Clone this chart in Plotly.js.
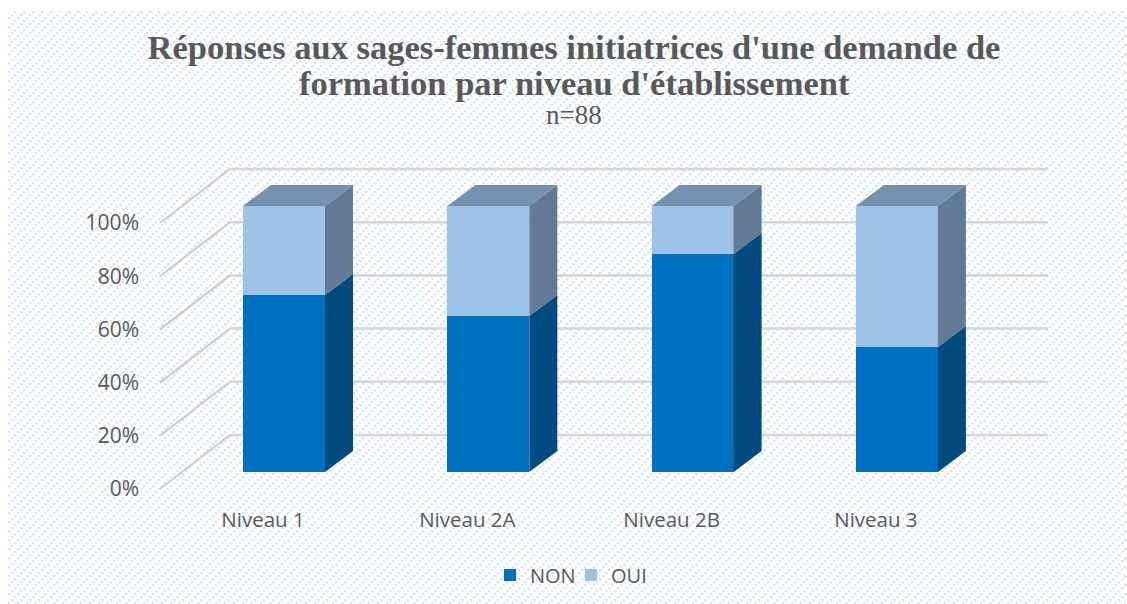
<!DOCTYPE html>
<html><head><meta charset="utf-8">
<script src="https://cdn.plot.ly/plotly-3.0.1.min.js"></script>
<style>
html,body{margin:0;padding:0;background:#fff;overflow:hidden}
#hatch{position:absolute;left:8px;top:11px;width:1119px;height:593px;
background-image:url("data:image/svg+xml,%3Csvg xmlns='http://www.w3.org/2000/svg' width='9' height='9'%3E%3Cg fill='%23d9e3f7'%3E%3Crect x='0' y='6' width='2.4' height='2.4'/%3E%3Crect x='3' y='3' width='2.4' height='2.4'/%3E%3Crect x='6' y='0' width='2.4' height='2.4'/%3E%3C/g%3E%3C/svg%3E")}
#chart{position:absolute;left:0;top:0;width:1127px;height:604px}
</style></head><body>
<div id="hatch"></div><div id="chart"></div>
<script>
const categories=['Niveau 1','Niveau 2A','Niveau 2B','Niveau 3'];
const non=[66.5,58.6,82,47];
const oui=[33.5,41.4,18,53];
const yTicks=[0,20,40,60,80,100];
const yTickLabels=['0%','20%','40%','60%','80%','100%'];
const titleLine1="Réponses aux sages-femmes initiatrices d'une demande de";
const titleLine2="formation par niveau d'établissement";
const W=1127,H=604,L=150,R=1060,T=150,B=500;
const pxX=204.3,pxY=2.66;
const xZero=284;
const xr=[(L-xZero)/pxX,(R-xZero)/pxX];
const yBars=[-(B-472)/pxY,(472-T)/pxY];
const yGrid=[-(B-489)/pxY,(489-T)/pxY];
const barW=82/pxX, dBarX=28/pxX, dBarY=21/pxY;
const wallX=70/pxX, wallY=54/pxY;
const frontX=(160-xZero)/pxX, endX=(1048-xZero)/pxX;
const xs=categories.map((c,i)=>i);
const traces=[];
yTicks.forEach(v=>{
  traces.push({type:'scatter',mode:'lines',x:[frontX,frontX+wallX],y:[v,v+wallY],xaxis:'x',yaxis:'y',
    line:{color:'#cbcbcb',width:2},hoverinfo:'skip',showlegend:false});
  traces.push({type:'scatter',mode:'lines',x:[frontX+wallX,endX],y:[v+wallY,v+wallY],xaxis:'x',yaxis:'y',
    line:{color:'#d6d6d6',width:2.5},hoverinfo:'skip',showlegend:false});
});
traces.push({type:'bar',name:'NON',x:xs,y:non,width:barW,xaxis:'x',yaxis:'y2',marker:{color:'#0070c0',line:{width:0}},hoverinfo:'skip'});
traces.push({type:'bar',name:'OUI',x:xs,y:oui,width:barW,xaxis:'x',yaxis:'y2',marker:{color:'#9dc3e6',line:{width:0}},hoverinfo:'skip'});
function face(px,py,color){
  traces.push({type:'scatter',mode:'lines',x:px,y:py,xaxis:'x',yaxis:'y2',fill:'toself',fillcolor:color,
    line:{width:0,color:color},hoverinfo:'skip',showlegend:false});
}
xs.forEach((c,i)=>{
  const r=c+barW/2,l=c-barW/2,n=non[i],t=non[i]+oui[i];
  face([r,r+dBarX,r+dBarX,r,r],[0,dBarY,n+dBarY,n,0],'#004a80');
  face([r,r+dBarX,r+dBarX,r,r],[n,n+dBarY,t+dBarY,t,n],'#627a96');
  face([l,l+dBarX,r+dBarX,r,l],[t,t+dBarY,t+dBarY,t,t],'#7691af');
});
const serif='"Liberation Serif",serif';
const yPaper=p=>(B-p)/(B-T), xPaper=p=>(p-L)/(R-L);
const layout={
  width:W,height:H,autosize:false,
  margin:{l:L,r:W-R,t:T,b:H-B,pad:0,autoexpand:false},
  paper_bgcolor:'rgba(0,0,0,0)',plot_bgcolor:'rgba(0,0,0,0)',
  barmode:'stack',
  font:{family:'"Open Sans",sans-serif',color:'#595959',size:17},
  title:{text:'<b>'+titleLine1+'</b>',
    font:{family:serif,size:34.5,color:'#595959'},
    x:574/W,xanchor:'center',y:1-47/H,yanchor:'middle'},
  annotations:[
   {text:'<b>'+titleLine2+'</b>',xref:'paper',yref:'paper',x:xPaper(574),y:yPaper(83),xanchor:'center',yanchor:'middle',
    showarrow:false,font:{family:serif,size:34.5,color:'#595959'}},
   {text:'n=88',xref:'paper',yref:'paper',x:xPaper(574),y:yPaper(115),xanchor:'center',yanchor:'middle',
    showarrow:false,font:{family:serif,size:27,color:'#595959'}}],
  xaxis:{range:xr,tickmode:'array',tickvals:xs.map(c=>c-21/pxX),ticktext:categories,showgrid:false,zeroline:false,showline:false,
    ticks:'',ticklabelstandoff:5,tickfont:{size:20.5,color:'#595959'}},
  yaxis:{range:yGrid,tickmode:'array',tickvals:yTicks,ticktext:yTickLabels,showgrid:false,zeroline:false,showline:false,
    ticks:'',ticklabelstandoff:10,tickfont:{size:21,color:'#595959'}},
  yaxis2:{range:yBars,overlaying:'y',side:'left',visible:false,showgrid:false,zeroline:false},
  showlegend:true,
  legend:{orientation:'h',x:xPaper(490),xanchor:'left',y:yPaper(575),yanchor:'middle',font:{size:20,color:'#595959'},
    entrywidth:36,entrywidthmode:'pixels',
    bgcolor:'rgba(0,0,0,0)',traceorder:'normal'}
};
Plotly.newPlot('chart',traces,layout,{displayModeBar:false,staticPlot:true});
</script></body></html>
